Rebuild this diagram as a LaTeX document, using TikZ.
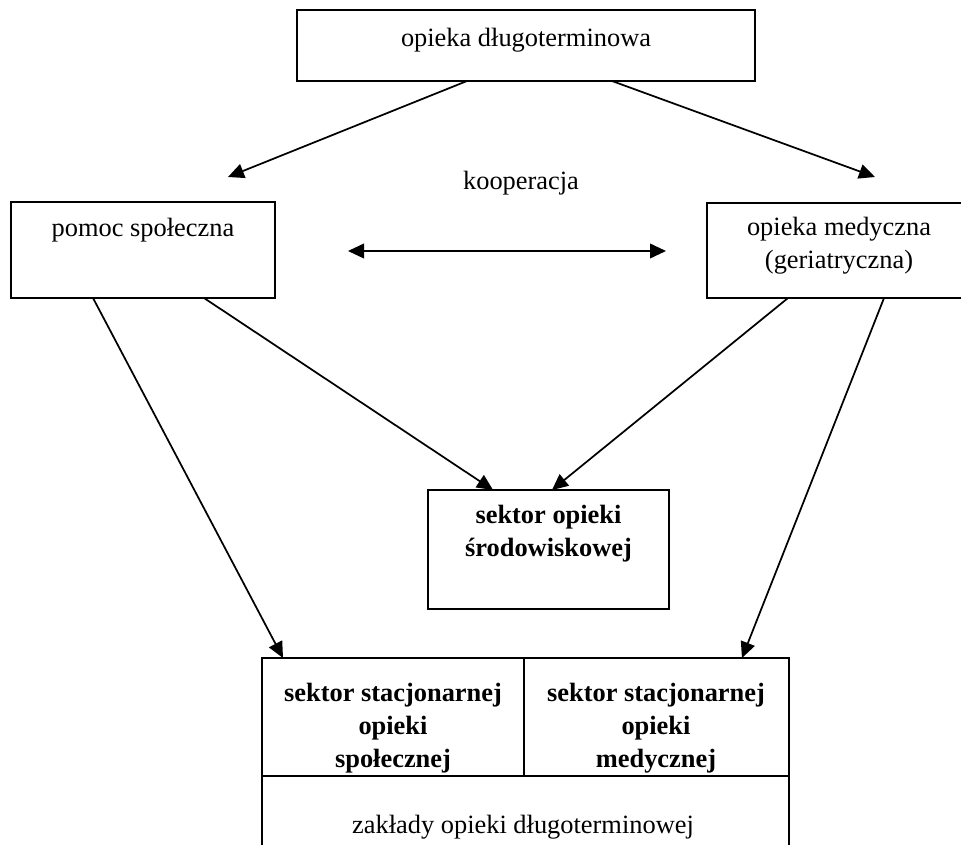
\documentclass[tikz,border=0pt]{standalone}
\usepackage{fontspec}
\setmainfont{Liberation Serif}
\usetikzlibrary{arrows.meta}
\begin{document}
\begin{tikzpicture}[x=0.75pt,y=-0.75pt,
  box/.style={draw, line width=1.5pt, inner sep=0pt, outer sep=0pt},
  txt/.style={inner sep=0pt, align=center, font=\fontsize{19.8}{24.75}\selectfont},
  btxt/.style={txt, font=\fontsize{19.8}{24.75}\selectfont\bfseries},
  conn/.style={line width=1.3pt, -{Triangle[length=12pt,width=11pt]}},
  both/.style={line width=1.3pt, {Triangle[length=12pt,width=11pt]}-{Triangle[length=12pt,width=11pt]}}]
\useasboundingbox (0,0) rectangle (961,845);
\clip (0,0) rectangle (961,845);

% boxes
\node[box, minimum width=343.5pt, minimum height=53.25pt] (top) at (526,45.5) {};
\node[box, minimum width=198pt, minimum height=72pt] (social) at (143,250) {};
\node[box, minimum width=198.75pt, minimum height=71.25pt] (medical) at (839.5,250.5) {};
\node[box, minimum width=180.75pt, minimum height=89.25pt] (home) at (548.5,549.5) {};
\node[box, minimum width=196.5pt, minimum height=88.5pt] (statsoc) at (393,717) {};
\node[box, minimum width=198.75pt, minimum height=88.5pt] (statmed) at (656.5,717) {};
\node[box, minimum width=395.25pt, minimum height=70.5pt] (ltc) at (525.5,823) {};

% texts
\node[txt] (toptext) at (526,40) {opieka długoterminowa};
\node[txt] (socialtext) at (143,230) {pomoc społeczna};
\node[txt] (medicaltext) at (839,246) {opieka medyczna\\(geriatryczna)};
\node[txt] (coop) at (521,183) {kooperacja};
\node[btxt] (hometext) at (548.5,533.5) {sektor opieki\\środowiskowej};
\node[btxt] (statsoctext) at (393,728.5) {sektor stacjonarnej\\opieki\\społecznej};
\node[btxt] (statmedtext) at (656,728.5) {sektor stacjonarnej\\opieki\\medycznej};
\node[txt] (ltctext) at (523,827) {zakłady opieki długoterminowej};

% free arrow ends
\coordinate (socialtip) at (228,177);
\coordinate (medicaltip) at (875,177);
\coordinate (coopL) at (348,251);
\coordinate (coopR) at (666,251);

% connectors
\draw[conn] ([xshift=-44.25pt]top.south) -- (socialtip);
\draw[conn] ([xshift=64.5pt]top.south) -- (medicaltip);
\draw[both] (coopL) -- (coopR);
\draw[conn] ([xshift=-37.5pt]social.south) -- ([xshift=-82.5pt]statsoc.north);
\draw[conn] ([xshift=45.75pt]social.south) -- ([xshift=-41.6pt]home.north);
\draw[conn] ([xshift=-38.6pt]medical.south) -- ([xshift=2.6pt]home.north);
\draw[conn] ([xshift=33.4pt]medical.south) -- ([xshift=64.1pt]statmed.north);
\end{tikzpicture}
\end{document}
